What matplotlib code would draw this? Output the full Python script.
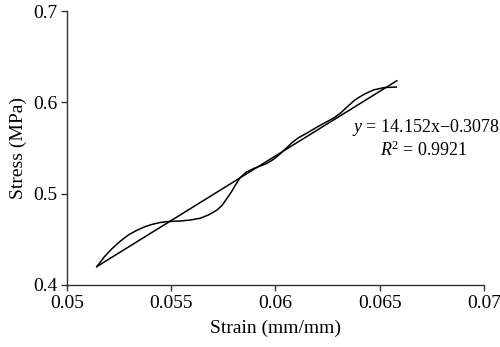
import numpy as np
import matplotlib
matplotlib.use("Agg")
import matplotlib.pyplot as plt

# measured stress-strain curve
strain = [0.05143, 0.05180, 0.05215, 0.05255, 0.05295, 0.05335, 0.05375, 0.05410,
          0.05445, 0.05479, 0.05510, 0.05543, 0.05590, 0.05639, 0.05680, 0.05720,
          0.05745, 0.05768, 0.05790, 0.05808, 0.05832, 0.05860, 0.05896, 0.05930,
          0.05960, 0.05990, 0.06020, 0.06050, 0.06080, 0.06110, 0.06152, 0.06200,
          0.06240, 0.06280, 0.06313, 0.06345, 0.06380, 0.06410, 0.06433, 0.06473,
          0.06521, 0.06569, 0.06580]
stress = [0.4200, 0.4310, 0.4395, 0.4478, 0.4548, 0.4598, 0.4639, 0.4664,
          0.4683, 0.4693, 0.4697, 0.4700, 0.4710, 0.4730, 0.4768, 0.4821,
          0.4875, 0.4950, 0.5025, 0.5095, 0.5180, 0.5235, 0.5276, 0.5305,
          0.5333, 0.5375, 0.5430, 0.5495, 0.5560, 0.5612, 0.5665, 0.5730,
          0.5780, 0.5830, 0.5885, 0.5953, 0.6025, 0.6068, 0.6098, 0.6138,
          0.6162, 0.6167, 0.6168]

# linear fit shown on the chart
slope = 14.152
intercept = -0.3078
r2 = 0.9921

plt.rcParams['font.family'] = ['Liberation Serif', 'DejaVu Serif']
plt.rcParams['mathtext.fontset'] = 'custom'
plt.rcParams['mathtext.rm'] = 'Liberation Serif'
plt.rcParams['mathtext.it'] = 'Liberation Serif:italic'

fig = plt.figure(figsize=(5, 3.47), dpi=100)
ax = fig.add_axes([0.134, 0.179, 0.834, 0.789])

ax.plot(strain, stress, color='black', lw=1.1, solid_joinstyle='round')
xfit = np.array([strain[0], strain[-1] + 0.00002])
ax.plot(xfit, slope * xfit + intercept, color='black', lw=1.1)

ax.set_xlim(0.05, 0.07)
ax.set_ylim(0.4, 0.7)
ax.set_xticks([0.05, 0.055, 0.06, 0.065, 0.07])
ax.set_xticklabels(['0.05', '0.055', '0.06', '0.065', '0.07'])
ax.set_yticks([0.4, 0.5, 0.6, 0.7])
ax.set_yticklabels(['0.4', '0.5', '0.6', '0.7'])

for side in ['top', 'right']:
    ax.spines[side].set_visible(False)
for side in ['left', 'bottom']:
    ax.spines[side].set_color('#333333')
    ax.spines[side].set_linewidth(1.0)
ax.tick_params(direction='out', length=4, width=1.0, color='#333333',
               labelsize=14, pad=3)

ax.set_xlabel('Strain (mm/mm)', fontsize=14, labelpad=6)
ax.set_ylabel('Stress (MPa)', fontsize=14, labelpad=4)

# fit equation and R squared
fig.text(426 / 500, 219 / 347, f'$y$ = {slope}x\u2212{abs(intercept)}',
         ha='center', va='center', fontsize=13)
fig.text(424 / 500, 197 / 347, f'$R$$^2$ = {r2}',
         ha='center', va='center', fontsize=13)

fig.savefig('out.png', dpi=100)
